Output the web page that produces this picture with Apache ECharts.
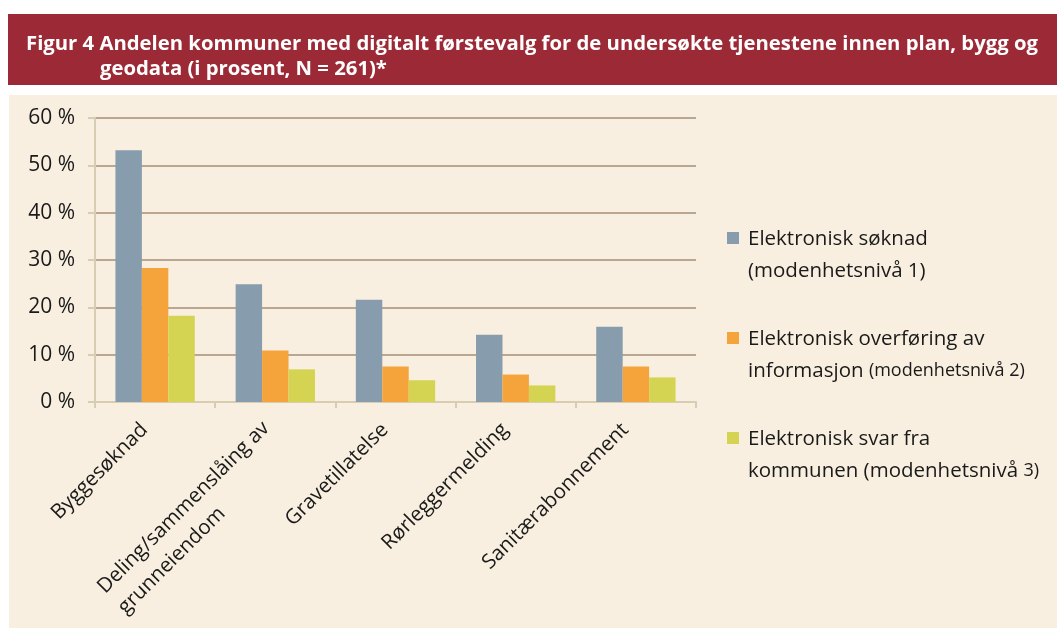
<!DOCTYPE html>
<html>
<head>
<meta charset="utf-8">
<script src="https://cdn.jsdelivr.net/npm/echarts@6/dist/echarts.min.js"></script>
<style>
  html, body { margin: 0; padding: 0; background: #fff; }
  #chart { width: 1057px; height: 628px; }
</style>
</head>
<body>
<div id="chart"></div>
<script>
const categories = [
  'Byggesøknad',
  'Deling/sammenslåing av\ngrunneiendom',
  'Gravetillatelse',
  'Rørleggermelding',
  'Sanitærabonnement'
]
const seriesNames = [
  'Elektronisk søknad (modenhetsnivå 1)',
  'Elektronisk overføring av informasjon (modenhetsnivå 2)',
  'Elektronisk svar fra kommunen (modenhetsnivå 3)'
]
const level1 = [53.2, 24.9, 21.6, 14.2, 15.9]
const level2 = [28.3, 10.9, 7.5, 5.8, 7.5]
const level3 = [18.2, 6.9, 4.6, 3.5, 5.2]
const yTicks = [0, 10, 20, 30, 40, 50, 60]
const colors = ['#879cad', '#f5a33b', '#d5d452']

// legend text lines: [main part, smaller trailing part]
const legendLines = [
  [['Elektronisk søknad', ''], ['(modenhetsnivå 1)', '']],
  [['Elektronisk overføring av', ''], ['informasjon ', '(modenhetsnivå 2)']],
  [['Elektronisk svar fra', ''], ['kommunen (modenhetsnivå ', '3)']]
]

const font = '"Open Sans", "Noto Sans", sans-serif'
const chart = echarts.init(document.getElementById('chart'))

const legendGraphics = []
legendLines.forEach((lines, i) => {
  const top = 228 + i * 100
  legendGraphics.push({
    type: 'rect',
    shape: { x: 727, y: top + 4, width: 12, height: 12 },
    style: { fill: colors[i] }
  })
  lines.forEach((parts, j) => {
    legendGraphics.push({
      type: 'text',
      x: 748,
      y: top + j * 32,
      style: {
        text: '{a|' + parts[0] + '}' + (parts[1] ? '{b|' + parts[1] + '}' : ''),
        rich: {
          a: { fontFamily: font, fontSize: 20.5, fill: '#1a1a1a', lineHeight: 22 },
          b: { fontFamily: font, fontSize: 18, fill: '#1a1a1a', lineHeight: 22 }
        },
        verticalAlign: 'top'
      }
    })
  })
})

// two-line labels hang below the first line instead of being centred on the tick
const xLabelData = categories.map(c => {
  const multi = c.indexOf('\n') >= 0
  return {
    value: c,
    textStyle: { padding: multi ? [29, 13, 0, 0] : [0, 15, 0, 0] }
  }
})

const series = [level1, level2, level3].map((data, i) => ({
  name: seriesNames[i],
  type: 'bar',
  data: data,
  barGap: '0%',
  barCategoryGap: '34%',
  itemStyle: { color: colors[i] },
  animation: false
}))

chart.setOption({
  animation: false,
  graphic: [
    {
      type: 'rect',
      z: -10,
      shape: { x: 8, y: 14, width: 1049, height: 71 },
      style: { fill: '#9c2a36' }
    },
    {
      type: 'rect',
      z: -10,
      shape: { x: 9, y: 95, width: 1048, height: 533 },
      style: { fill: '#f8efe0' }
    },
    {
      type: 'text',
      x: 26,
      y: 34,
      style: {
        text: 'Figur 4 Andelen kommuner med digitalt førstevalg for de undersøkte tjenestene innen plan, bygg og',
        fontFamily: font,
        fontWeight: 'bold',
        fontSize: 20.3,
        fill: '#ffffff'
      }
    },
    {
      type: 'text',
      x: 100,
      y: 59,
      style: {
        text: 'geodata (i prosent, N = 261)*',
        fontFamily: font,
        fontWeight: 'bold',
        fontSize: 20.3,
        fill: '#ffffff'
      }
    }
  ].concat(legendGraphics),
  grid: {
    left: 95,
    right: 361,
    top: 118,
    bottom: 226
  },
  xAxis: {
    type: 'category',
    data: xLabelData,
    axisLine: { lineStyle: { color: '#d8ccb2', width: 2 } },
    axisTick: { show: true, length: 6, lineStyle: { color: '#d8ccb2', width: 2 } },
    axisLabel: {
      rotate: 45,
      interval: 0,
      margin: 14,
      color: '#1a1a1a',
      formatter: (value) => value.split('\n').map(s => '{a|' + s + '}').join('\n'),
      rich: {
        a: { fontFamily: font, fontSize: 20.5, color: '#1a1a1a', lineHeight: 29, align: 'left' }
      }
    }
  },
  yAxis: {
    type: 'value',
    min: yTicks[0],
    max: yTicks[yTicks.length - 1],
    interval: 10,
    axisLine: { show: true, lineStyle: { color: '#d8ccb2', width: 2 } },
    axisTick: { show: true, length: 7, lineStyle: { color: '#d8ccb2', width: 2 } },
    axisLabel: {
      formatter: '{value} %',
      fontFamily: font,
      fontSize: 21,
      color: '#1a1a1a',
      margin: 20
    },
    splitLine: { lineStyle: { color: '#a58f78', width: 1.5 } }
  },
  series: series
})
</script>
</body>
</html>
